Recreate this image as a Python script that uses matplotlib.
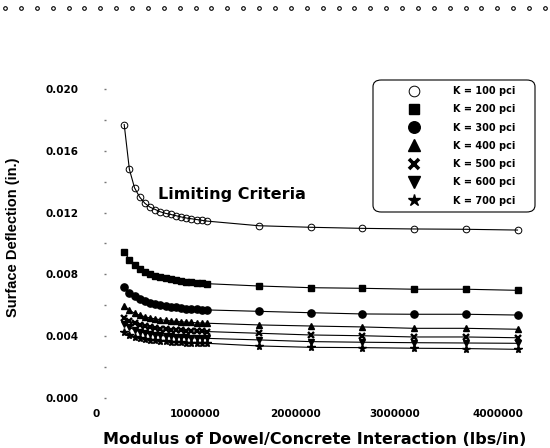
import numpy as np
import matplotlib
matplotlib.use("Agg")
import matplotlib.pyplot as plt
from matplotlib.lines import Line2D
from matplotlib.patches import FancyBboxPatch
from matplotlib.transforms import ScaledTranslation

# ---------------- data ----------------
modulus = [200000, 250000, 300000, 350000, 400000, 450000, 500000, 550000, 600000,
           650000, 700000, 750000, 800000, 850000, 900000, 950000, 1000000,
           1500000, 2000000, 2500000, 3000000, 3500000, 4000000]

k100 = [0.0177, 0.0148, 0.0136, 0.0130, 0.0126, 0.01235, 0.0122, 0.01205, 0.01195,
        0.01188, 0.0118, 0.01172, 0.01165, 0.0116, 0.01155, 0.0115, 0.01145,
        0.01115, 0.01105, 0.01098, 0.01094, 0.01092, 0.01087]
k200 = [0.00947, 0.00895, 0.00861, 0.00836, 0.00818, 0.00803, 0.00792, 0.00782, 0.00774,
        0.00768, 0.00762, 0.00757, 0.00753, 0.00749, 0.00746, 0.00743, 0.00740,
        0.00725, 0.00714, 0.00710, 0.00704, 0.00704, 0.00697]
k300 = [0.00720, 0.00682, 0.00657, 0.00639, 0.00626, 0.00615, 0.00607, 0.00600, 0.00595,
        0.00590, 0.00586, 0.00582, 0.00579, 0.00576, 0.00574, 0.00572, 0.00570,
        0.00561, 0.00552, 0.00544, 0.00542, 0.00542, 0.00537]
k400 = [0.00596, 0.00568, 0.00549, 0.00536, 0.00526, 0.00518, 0.00512, 0.00507, 0.00503,
        0.00499, 0.00496, 0.00493, 0.00491, 0.00489, 0.00487, 0.00485, 0.00484,
        0.00473, 0.00466, 0.00460, 0.00451, 0.00451, 0.00445]
k500 = [0.00520, 0.00498, 0.00483, 0.00472, 0.00464, 0.00458, 0.00453, 0.00448, 0.00445,
        0.00442, 0.00440, 0.00438, 0.00436, 0.00434, 0.00433, 0.00431, 0.00430,
        0.00419, 0.00408, 0.00403, 0.00395, 0.00395, 0.00390]
k600 = [0.00480, 0.00457, 0.00441, 0.00430, 0.00421, 0.00415, 0.00410, 0.00405, 0.00402,
        0.00399, 0.00396, 0.00394, 0.00392, 0.00390, 0.00389, 0.00387, 0.00386,
        0.00376, 0.00365, 0.00361, 0.00358, 0.00356, 0.00354]
k700 = [0.00430, 0.00411, 0.00398, 0.00389, 0.00383, 0.00377, 0.00373, 0.00370, 0.00367,
        0.00364, 0.00362, 0.00360, 0.00359, 0.00357, 0.00356, 0.00355, 0.00354,
        0.00337, 0.00328, 0.00326, 0.00322, 0.00320, 0.00315]

labels = ["K = 100 pci", "K = 200 pci", "K = 300 pci", "K = 400 pci",
          "K = 500 pci", "K = 600 pci", "K = 700 pci"]
series = [k100, k200, k300, k400, k500, k600, k700]

x_ticks = [0, 1000000, 2000000, 3000000, 4000000]
x_ticklabels = ["0", "1000000", "2000000", "3000000", "4000000"]
y_ticks = [0.000, 0.004, 0.008, 0.012, 0.016, 0.020]
y_ticklabels = ["0.000", "0.004", "0.008", "0.012", "0.016", "0.020"]

# ---------------- styles ----------------
styles = [
    dict(marker="o", ms=4.8, mfc="none", mec="black", mew=0.7),
    dict(marker="s", ms=4.5, mfc="black", mec="black"),
    dict(marker="o", ms=5.2, mfc="black", mec="black"),
    dict(marker="^", ms=5.0, mfc="black", mec="black"),
    dict(marker="x", ms=4.2, mfc="black", mec="black", mew=1.7),
    dict(marker="v", ms=5.0, mfc="black", mec="black"),
    dict(marker="*", ms=5.8, mfc="black", mec="black"),
]

W, H = 550, 448
fig = plt.figure(figsize=(W / 100, H / 100), dpi=100)
fig.patch.set_facecolor("white")

left_px, right_px = 103.5, 103.5 + 4.2 * 103.5
bottom_px, top_px = 398, 89
ax = fig.add_axes([left_px / W, 1 - bottom_px / H,
                   (right_px - left_px) / W, (bottom_px - top_px) / H])
ax.set_xlim(0, 4200000)
ax.set_ylim(0, 0.020)
for s in ax.spines.values():
    s.set_visible(False)

handles = []
for vals, lab, st in zip(series, labels, styles):
    ax.plot(modulus, vals, color="black", lw=0.8, ls="-", **st)
    hst = dict(st)
    if hst["marker"] == "x":
        hst["mew"] = 2.6
    handles.append(Line2D([], [], ls="none", color="black", **hst))

tick_font = dict(family="DejaVu Sans", weight="bold", size=7.5)
ax.set_xticks(x_ticks)
ax.set_xticklabels(x_ticklabels, **tick_font)
ax.set_yticks(y_ticks)
ax.set_yticklabels(y_ticklabels, **tick_font)
ax.set_yticks(np.arange(0.002, 0.020, 0.004), minor=True)
ax.tick_params(axis="x", length=0, pad=8)
ax.tick_params(axis="y", which="both", length=1.5, width=1.0, color="#777777",
               direction="in", pad=18)

# scanned tick labels sit slightly left of their data positions
shifts = [-7, -12, -15, -19, -20]
for lab, dx in zip(ax.get_xticklabels(), shifts):
    lab.set_transform(lab.get_transform() + ScaledTranslation(dx / 100, 0, fig.dpi_scale_trans))

ax.text(530000, 0.01315, "Limiting Criteria", family="DejaVu Sans", weight="bold",
        size=11.5, ha="left", va="center")

# legend (frame drawn separately to match the scanned box)
leg = ax.legend(handles, labels, loc="upper left",
                bbox_to_anchor=(395 / W, 1 - 86 / H), bbox_transform=fig.transFigure,
                prop=dict(family="DejaVu Sans", weight="bold", size=7),
                markerscale=1.6, handlelength=4.0, handletextpad=1.96,
                labelspacing=0.85, borderpad=0.0, borderaxespad=0.0, frameon=False)
box = FancyBboxPatch((373 / W, 1 - 212 / H), (535 - 373) / W, (212 - 80) / H,
                     boxstyle="round,pad=0,rounding_size=0.015",
                     transform=fig.transFigure, fc="none", ec="black", lw=0.8)
fig.add_artist(box)

fig.text(13 / W, 1 - 237 / H, "Surface Deflection (in.)", rotation=90,
         family="Liberation Sans", weight="bold", size=10.5, ha="center", va="center")
fig.text(315 / W, 1 / H, "Modulus of Dowel/Concrete Interaction (lbs/in)",
         family="DejaVu Sans", weight="bold", size=11.5, ha="center", va="bottom")

# dotted scan border along the top edge
fig.add_artist(Line2D(np.linspace(5, 545, 35) / W, np.full(35, 1 - 8 / H),
                      transform=fig.transFigure, ls="none", marker="o", ms=2.6,
                      mfc="none", mec="black", mew=0.8))

fig.savefig("out.png", dpi=100)
